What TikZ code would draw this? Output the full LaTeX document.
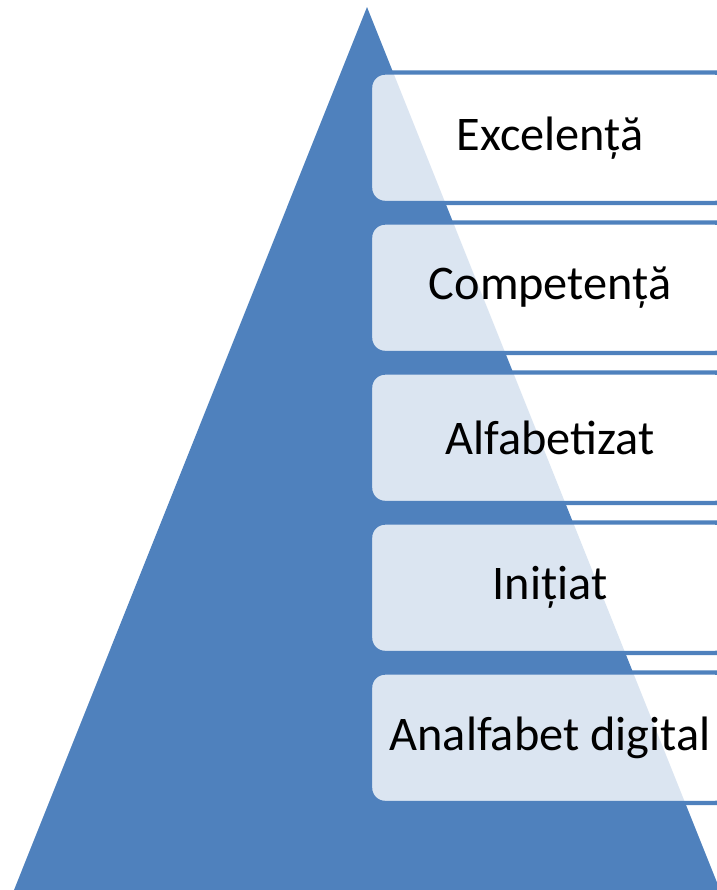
\documentclass[tikz,border=0pt]{standalone}
\usepackage{fontspec}
\setmainfont{Carlito}
\usepackage{xcolor}
\definecolor{pyramid-blue}{HTML}{4F81BD}
\definecolor{pyramid-white}{HTML}{FFFFFF}
\usepackage{tikz}

\tikzset{
    levelbox/.style={draw=pyramid-blue, line width=2.5pt, fill=pyramid-white, fill opacity=0.8, text opacity=1,
        rounded corners=0.3cm, minimum width=7.2cm, minimum height=2.61cm, inner sep=0pt,
        font=\fontsize{27.5}{32}\selectfont}
}

\begin{document}
\begin{tikzpicture}[x=0.02cm, y=-0.02cm]

    % Clip mask
    \clip (0, 0) rectangle (717, 890);
    \useasboundingbox (0, 0) rectangle (717, 890);

    % Pyramid
    \fill[pyramid-blue] (367, 7) -- (720, 890) -- (14, 890) -- cycle;

    % Levels
    \node[levelbox] (excelenta) at (550, 137.75) {Excelență};
    \node[levelbox] (competenta) at (550, 287.75) {Competență};
    \node[levelbox] (alfabetizat) at (550, 437.75) {Alfabetizat};
    \node[levelbox] (initiat) at (550, 587.75) {Inițiat};
    \node[levelbox] (analfabet) at (550, 737.75) {Analfabet digital};

\end{tikzpicture}
\end{document}
